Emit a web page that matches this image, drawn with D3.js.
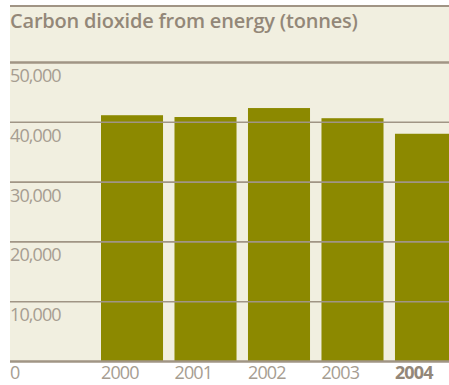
<!DOCTYPE html>
<html>
<head>
<meta charset="utf-8">
<script src="https://cdn.jsdelivr.net/npm/d3@7"></script>
<style>
  html, body { margin: 0; padding: 0; background: #ffffff; }
  svg { display: block; }
  text { font-family: "Open Sans", "Noto Sans", sans-serif; }
</style>
</head>
<body>
<script>
// Annual CO2 emissions from energy use
const years = ["2000", "2001", "2002", "2003", "2004"];
const tonnes = [41100, 40800, 42300, 40600, 38000];
const yTicks = [0, 10000, 20000, 30000, 40000, 50000];
const title = "Carbon dioxide from energy (tonnes)";

const W = 449, H = 385;
const panelLeft = 10, panelTop = 5;

const svg = d3.select("body").append("svg")
  .attr("width", W).attr("height", H);

const x = d3.scaleBand()
  .domain(years)
  .range([101, 457])
  .paddingInner(0.156)
  .paddingOuter(0);

const y = d3.scaleLinear()
  .domain([0, 50000])
  .range([361, 62]);

// cream panel
svg.append("rect")
  .attr("x", panelLeft).attr("y", panelTop)
  .attr("width", W - panelLeft).attr("height", y(0) - panelTop)
  .attr("fill", "#f1efe0");

// top rule
svg.append("line")
  .attr("x1", panelLeft).attr("x2", W)
  .attr("y1", panelTop + 1).attr("y2", panelTop + 1)
  .attr("stroke", "#a09484").attr("stroke-width", 2);

// title
svg.append("text")
  .attr("x", panelLeft).attr("y", 28)
  .attr("fill", "#938778")
  .attr("font-size", 20)
  .attr("font-weight", 600)
  .attr("letter-spacing", -0.2)
  .text(title);

// bars
svg.append("g").selectAll("rect")
  .data(years.map((yr, i) => ({ yr, v: tonnes[i] })))
  .join("rect")
  .attr("x", d => x(d.yr))
  .attr("width", x.bandwidth())
  .attr("y", d => y(d.v))
  .attr("height", d => y(0) - y(d.v))
  .attr("fill", "#8c8900");

// gridlines drawn over bars
const yAxis = d3.axisLeft(y)
  .tickValues(yTicks.filter(t => t > 0))
  .tickSize(-(W - panelLeft))
  .tickFormat("");
const gy = svg.append("g")
  .attr("transform", `translate(${panelLeft},0)`)
  .call(yAxis);
gy.select(".domain").remove();
gy.selectAll(".tick line")
  .attr("stroke", "#a09585")
  .attr("stroke-width", d => d === 50000 ? 2.5 : 1.6);

// baseline
svg.append("line")
  .attr("x1", panelLeft).attr("x2", W)
  .attr("y1", y(0) + 0.5).attr("y2", y(0) + 0.5)
  .attr("stroke", "#a09585").attr("stroke-width", 2.5);

// y tick labels
svg.append("g").selectAll("text")
  .data(yTicks)
  .join("text")
  .attr("x", 10)
  .attr("y", d => d === 0 ? 379 : y(d) + 20)
  .attr("fill", "#a69d91")
  .attr("font-size", 18)
  .attr("letter-spacing", -0.9)
  .text(d => d === 0 ? "0" : d3.format(",")(d));

// x labels, left-aligned with each bar
svg.append("g").selectAll("text")
  .data(years)
  .join("text")
  .attr("x", d => x(d))
  .attr("y", 379)
  .attr("fill", d => d === "2004" ? "#938779" : "#a69d91")
  .attr("font-weight", d => d === "2004" ? 700 : 400)
  .attr("font-size", 18)
  .attr("letter-spacing", -0.9)
  .text(d => d);
</script>
</body>
</html>
